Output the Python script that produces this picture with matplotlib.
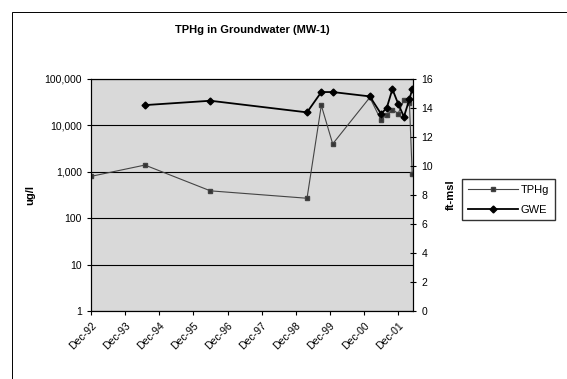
import pandas as pd
import matplotlib
matplotlib.use("Agg")
import matplotlib.pyplot as plt
import matplotlib.dates as mdates
from matplotlib.ticker import FixedLocator, FuncFormatter

plt.rcParams['font.family'] = ['Liberation Sans', 'DejaVu Sans']

dates = ["1992-12-01", "1994-07-01", "1996-06-01", "1999-04-01", "1999-09-01",
         "2000-01-01", "2001-02-01", "2001-06-01", "2001-08-01", "2001-10-01",
         "2001-12-01", "2002-02-01", "2002-04-01", "2002-05-01"]
tphg = [800, 1400, 390, 270, 27000, 4000, 40000, 13000, 17000, 22000,
        18000, 35000, 30000, 900]
gwe = [None, 14.2, 14.5, 13.7, 15.1, 15.1, 14.8, 13.6, 14.0, 15.3,
       14.3, 13.4, 14.6, 15.3]
tick_years = list(range(1992, 2002))

d = pd.to_datetime(dates)
gwe_s = pd.Series(gwe, dtype=float)

fig = plt.figure(figsize=(5.67, 3.79), dpi=100)
ax = fig.add_axes([0.1605, 0.179, 0.568, 0.6126])
ax.set_facecolor('#d9d9d9')
ax.set_yscale('log')
ax.set_ylim(1, 100000)
ax.yaxis.set_major_locator(FixedLocator([1, 10, 100, 1000, 10000, 100000]))
ax.yaxis.set_minor_locator(FixedLocator([]))
ax.yaxis.set_major_formatter(FuncFormatter(lambda v, p: f"{v:,.0f}"))
ax.grid(axis='y', color='black', linewidth=0.8)
ax.set_axisbelow(True)

l1, = ax.plot(d, tphg, color='#444444', linewidth=0.8, marker='s',
              markersize=3.5, markerfacecolor='#333333', label='TPHg')

ax2 = ax.twinx()
l2, = ax2.plot(d, gwe_s, color='black', linewidth=1.3, marker='D',
               markersize=3.5, label='GWE')
ax2.set_ylim(0, 16)
ax2.set_yticks(range(0, 17, 2))
ax2.tick_params(axis='y', direction='inout', length=5, labelsize=7.5)

ax.set_xlim(pd.Timestamp("1992-12-01"), pd.Timestamp("2002-05-10"))
ax.set_xticks([pd.Timestamp(f"{y}-12-01") for y in tick_years])
ax.xaxis.set_major_formatter(mdates.DateFormatter('%b-%y'))
for lab in ax.get_xticklabels():
    lab.set_rotation(45)
    lab.set_ha('right')
    lab.set_rotation_mode('anchor')
ax.tick_params(axis='x', labelsize=7.5, length=3)
ax.tick_params(axis='y', labelsize=7.5, length=3)

for a in (ax, ax2):
    for s in a.spines.values():
        s.set_linewidth(0.8)
        s.set_color('black')

ax.set_ylabel('ug/l', fontsize=8, fontweight='bold', labelpad=7)
ax2.set_ylabel('ft-msl', fontsize=8, fontweight='bold', labelpad=9)
fig.text(0.445, 0.92, 'TPHg in Groundwater (MW-1)', ha='center', va='center',
         fontsize=8, fontweight='bold')

fig.legend(handles=[l1, l2], loc='upper left', bbox_to_anchor=(0.815, 0.527),
           fontsize=8, frameon=True, fancybox=False, edgecolor='black',
           handlelength=4.5, handletextpad=0.3, borderpad=0.5,
           labelspacing=0.9, borderaxespad=0)

border = plt.Rectangle((0.022, -0.1), 1.1, 1.068, transform=fig.transFigure,
                       fill=False, edgecolor='black', linewidth=0.7)
fig.patches.append(border)

fig.savefig('out.png', dpi=100)
